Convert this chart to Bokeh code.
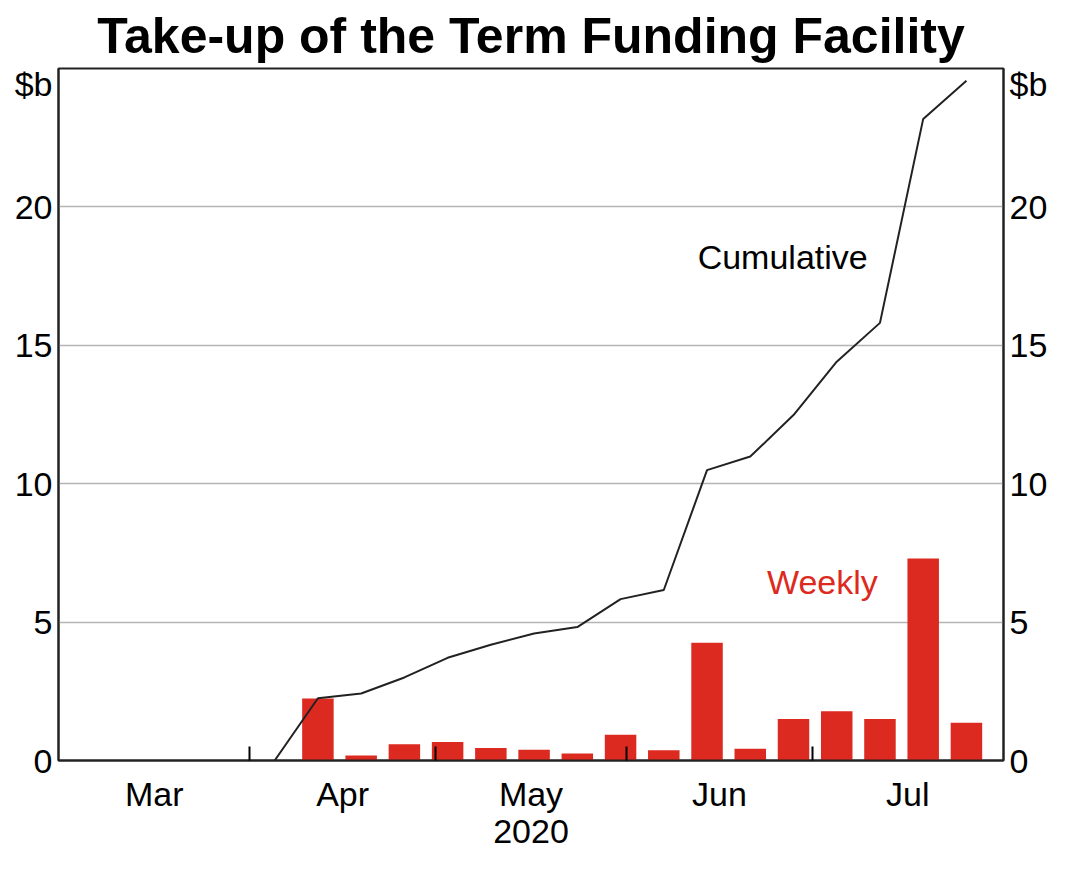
import pandas as pd
from bokeh.plotting import figure
from bokeh.models import Range1d, FixedTicker, LinearAxis, DatetimeAxis, Label
from bokeh.embed import file_html
from bokeh.resources import INLINE

# ---- data ----
week_dates = ["2020-04-12", "2020-04-19", "2020-04-26", "2020-05-03", "2020-05-10",
              "2020-05-17", "2020-05-24", "2020-05-31", "2020-06-07", "2020-06-14",
              "2020-06-21", "2020-06-28", "2020-07-05", "2020-07-12", "2020-07-19",
              "2020-07-26"]
weekly = [2.24, 0.18, 0.59, 0.67, 0.45, 0.39, 0.25, 0.93, 0.37, 4.25,
          0.42, 1.50, 1.78, 1.50, 7.30, 1.36]
cum_dates = ["2020-04-05"] + week_dates
cumulative = [0.0, 2.25, 2.42, 3.00, 3.71, 4.18, 4.59, 4.82, 5.83, 6.16,
              10.49, 10.98, 12.48, 14.41, 15.81, 23.18, 24.56]
month_starts = ["2020-03-01", "2020-04-01", "2020-05-01", "2020-06-01", "2020-07-01", "2020-08-01"]
month_labels = ["Mar", "Apr", "May", "Jun", "Jul"]
year_label = "2020"
y_ticks = [0, 5, 10, 15, 20]
unit_label = "$b"

def ms(d):
    return int(pd.Timestamp(d).value // 10**6)

wx = [ms(d) for d in week_dates]
cx = [ms(d) for d in cum_dates]
bounds = [ms(d) for d in month_starts]
mids = [(a + b) // 2 for a, b in zip(bounds[:-1], bounds[1:])]
DAY = 86400000

FONT = "Liberation Sans"
RED = "#dd2a21"

p = figure(width=1050, height=856, x_axis_type="datetime",
           x_range=Range1d(bounds[0], bounds[-1]), y_range=Range1d(0, 25),
           output_backend="svg", toolbar_location=None,
           min_border_left=58, min_border_right=45, min_border_top=68, min_border_bottom=96)

p.title.text = "Take-up of the Term Funding Facility"
p.title.align = "center"
p.title.text_font = FONT
p.title.text_font_size = "50px"
p.title.text_font_style = "bold"
p.title.text_color = "black"

p.vbar(x=wx, top=weekly, width=5.1 * DAY, fill_color=RED, line_color=None)
p.line(x=cx, y=cumulative, line_color="#222222", line_width=2)

# x axis: labels mid-month, ticks (inside) at month boundaries
xa = p.xaxis[0]
xa.ticker = FixedTicker(ticks=mids, minor_ticks=bounds[1:-1])
xa.major_label_overrides = {m: t for m, t in zip(mids, month_labels)}
xa.major_tick_in = 0
xa.major_tick_out = 0
xa.minor_tick_in = 14
xa.minor_tick_out = 0
xa.minor_tick_line_color = "black"
xa.minor_tick_line_width = 2
xa.axis_line_color = "#222222"
xa.axis_line_width = 2
xa.major_label_text_font = FONT
xa.major_label_text_font_size = "34px"
xa.major_label_text_color = "black"
xa.major_label_standoff = 14

# second row below: the year
ya = DatetimeAxis()
ya.ticker = FixedTicker(ticks=[mids[2]])
ya.major_label_overrides = {mids[2]: year_label}
ya.axis_line_color = None
ya.major_tick_line_color = None
ya.minor_tick_line_color = None
ya.major_tick_in = 0
ya.major_tick_out = 0
ya.minor_tick_in = 0
ya.minor_tick_out = 0
ya.major_label_text_font = FONT
ya.major_label_text_font_size = "34px"
ya.major_label_text_color = "black"
ya.major_label_standoff = 4
p.add_layout(ya, "below")

unit_pos = 24.45
yt = y_ticks + [unit_pos]
ov = {unit_pos: unit_label}

def style_y(ax):
    ax.ticker = FixedTicker(ticks=yt)
    ax.major_label_overrides = ov
    ax.major_tick_in = 0
    ax.major_tick_out = 0
    ax.minor_tick_in = 0
    ax.minor_tick_out = 0
    ax.axis_line_color = "#222222"
    ax.axis_line_width = 2
    ax.major_label_text_font = FONT
    ax.major_label_text_font_size = "34px"
    ax.major_label_text_color = "black"
    ax.major_label_standoff = 6

style_y(p.yaxis[0])
ra = LinearAxis()
style_y(ra)
p.add_layout(ra, "right")

p.xgrid.visible = False
p.ygrid.ticker = FixedTicker(ticks=[5, 10, 15, 20])
p.ygrid.grid_line_color = "#b4b4b4"
p.ygrid.grid_line_width = 1.5

p.outline_line_color = "#222222"
p.outline_line_width = 2
p.background_fill_color = "white"
p.border_fill_color = "white"

p.add_layout(Label(x=ms("2020-06-26 06:00"), y=18.2, text="Cumulative",
                   text_align="center", text_baseline="middle",
                   text_font=FONT, text_font_size="34px", text_color="black"))
p.add_layout(Label(x=ms("2020-07-02 16:00"), y=6.45, text="Weekly",
                   text_align="center", text_baseline="middle",
                   text_font=FONT, text_font_size="34px", text_color=RED))

open("out.html", "w").write(file_html(p, INLINE))
